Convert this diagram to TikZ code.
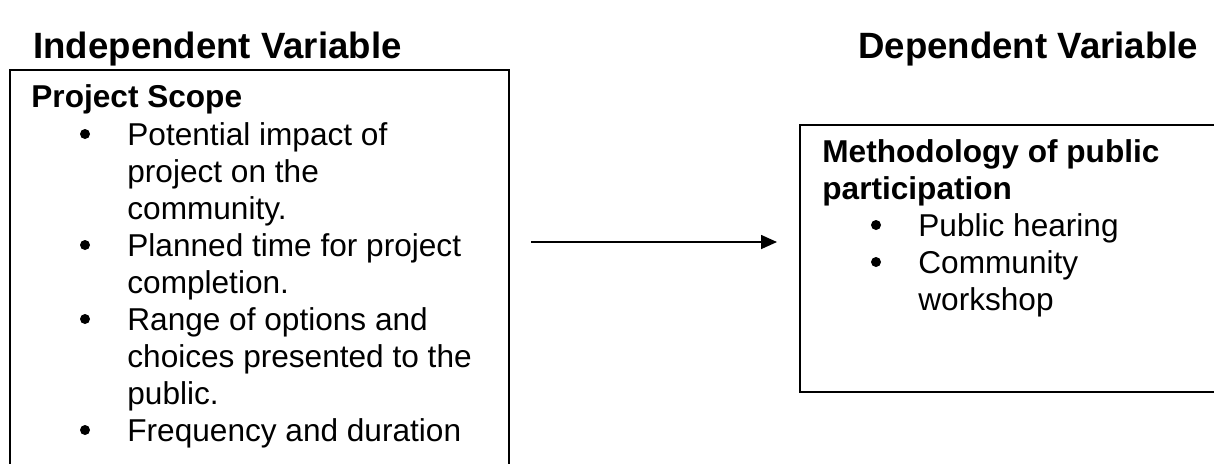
\documentclass[tikz,border=0pt]{standalone}
\usepackage{fontspec}
\setmainfont{Liberation Sans}
\usetikzlibrary{arrows.meta}

\begin{document}
\begin{tikzpicture}[x=0.5pt,y=-0.5pt,
    every node/.style={inner sep=0pt, font=\fontsize{15.8}{18.5}\selectfont},
    title/.style={anchor=base west, font=\bfseries\fontsize{15.8}{18.5}\selectfont},
    heading/.style={anchor=base west, font=\bfseries\fontsize{18.3}{21}\selectfont},
    txt/.style={anchor=base west},
    dot/.style={circle, fill=black, minimum size=5pt},
    box/.style={draw, line width=0.8pt, anchor=north west}]
\useasboundingbox (0,0) rectangle (1214,463);

% Headings
\node[heading] (indep) at (33,58) {Independent Variable};
\node[heading] (dep) at (858,58) {Dependent Variable};

% Boxes (both run past the page edge)
\begin{scope}
\clip (0,0) rectangle (1214,463);
\node[box, minimum width=249.5pt, minimum height=220pt] (scope) at (9,69) {};
\node[box, minimum width=220pt, minimum height=133.5pt] (method) at (799,124) {};
\end{scope}

% Project scope text
\node[title] (scopehd) at (31,107) {Project Scope};
\foreach \t/\y in {Potential impact of/145, project on the/182, community./219,
    Planned time for project/256, completion./293, Range of options and/330,
    choices presented to the/367, public./404, Frequency and duration/441}
    \node[txt] at (127,\y) {\t};
\foreach \y in {145,256,330,441}
    \node[dot] at (85,\y-11) {};

% Methodology text
\node[title] (methhd) at (822,162) {Methodology of public};
\node[title] at (822,199) {participation};
\foreach \t/\y in {Public hearing/236, Community/273, workshop/310}
    \node[txt] at (918,\y) {\t};
\foreach \y in {236,273}
    \node[dot] at (876,\y-11) {};

% Arrow
\coordinate (from) at (531,242);
\coordinate (to) at (777,242);
\draw[line width=0.8pt, -{Triangle[length=8pt,width=7pt]}] (from) -- (to);
\end{tikzpicture}
\end{document}
